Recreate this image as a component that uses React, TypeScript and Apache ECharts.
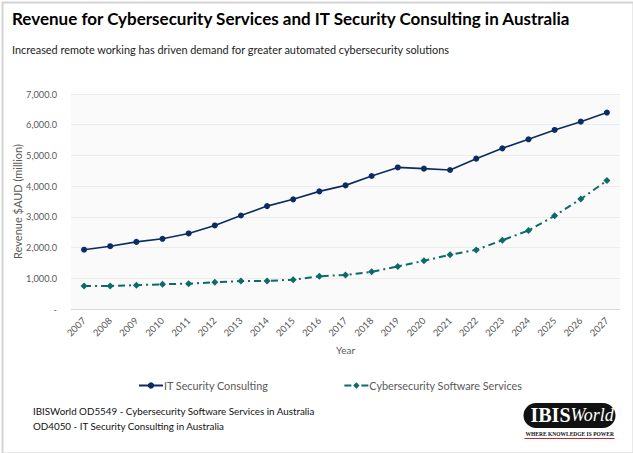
import React, { useEffect, useRef } from "react";
import * as echarts from "echarts";

const years = ["2007","2008","2009","2010","2011","2012","2013","2014","2015","2016","2017","2018","2019","2020","2021","2022","2023","2024","2025","2026","2027"];
const itConsulting = [1930, 2045, 2185, 2285, 2460, 2720, 3045, 3350, 3570, 3830, 4025, 4330, 4610, 4570, 4525, 4895, 5230, 5525, 5830, 6100, 6395];
const cyberSoftware = [750, 750, 775, 805, 825, 870, 910, 915, 955, 1065, 1110, 1210, 1385, 1570, 1765, 1925, 2240, 2555, 3035, 3580, 4180];
const seriesNames = ["IT Security Consulting", "Cybersecurity Software Services"];
const titleText = "Revenue for Cybersecurity Services and IT Security Consulting in Australia";
const subtitleText = "Increased remote working has driven demand for greater automated cybersecurity solutions";
const sourceLines = ["IBISWorld OD5549 - Cybersecurity Software Services in Australia", "OD4050 - IT Security Consulting in Australia"];

const FONT = "Lato, Roboto, sans-serif";

export default function App() {
  const ref = useRef<HTMLDivElement>(null);
  useEffect(() => {
    if (!ref.current) return;
    const chart = echarts.init(ref.current, undefined, { renderer: "svg" });
    chart.setOption({
      animation: false,
      backgroundColor: "#ffffff",
      textStyle: { fontFamily: FONT },
      grid: { left: 71, right: 13, top: 94, bottom: 144, show: true, backgroundColor: "#fafafa", borderWidth: 0, outerBoundsMode: "none", containLabel: false },
      legend: {
        top: 375,
        left: 133,
        itemGap: 75,
        itemWidth: 24,
        itemHeight: 8,
        textStyle: { color: "#595959", fontSize: 10.8, fontFamily: FONT, padding: [0, 0, 0, -4] },
        data: seriesNames,
      },
      xAxis: {
        type: "category",
        data: years,
        boundaryGap: true,
        name: "Year",
        nameLocation: "middle",
        nameGap: 36,
        nameTextStyle: { color: "#595959", fontSize: 10, fontFamily: FONT },
        axisLine: { lineStyle: { color: "#d9d9d9" } },
        axisTick: { show: false },
        axisLabel: { rotate: 45, color: "#595959", fontSize: 9.5, margin: 10, interval: 0, fontFamily: FONT },
      },
      yAxis: {
        type: "value",
        min: 0,
        max: 7000,
        interval: 1000,
        name: "Revenue $AUD (million)",
        nameLocation: "middle",
        nameGap: 48,
        nameMoveOverlap: false,
        nameTextStyle: { color: "#595959", fontSize: 11, fontFamily: FONT },
        axisLine: { show: false },
        axisTick: { show: false },
        splitLine: { lineStyle: { color: "#ececec" } },
        axisLabel: {
          color: "#595959",
          fontSize: 9.2,
          margin: 14,
          fontFamily: FONT,
          formatter: (v: number) => (v === 0 ? "-" : v.toLocaleString("en-US", { minimumFractionDigits: 1, maximumFractionDigits: 1 })),
        },
      },
      series: [
        {
          name: seriesNames[0],
          type: "line",
          data: itConsulting,
          symbol: "circle",
          symbolSize: 6,
          itemStyle: { color: "#0b2c63" },
          lineStyle: { color: "#0b2c63", width: 1.6 },
        },
        {
          name: seriesNames[1],
          type: "line",
          data: cyberSoftware,
          symbol: "diamond",
          symbolSize: 7,
          itemStyle: { color: "#0c6b67" },
          lineStyle: { color: "#0c6b67", width: 2, type: [7, 4, 2, 4] },
        },
      ],
      graphic: [
        { type: "rect", left: 0, top: 0, shape: { x: 0.5, y: 0.5, width: 631, height: 451 }, style: { fill: "none", stroke: "#d4d4d4", lineWidth: 2 }, silent: true },
        { type: "text", left: 12, top: 10, style: { text: titleText, fontSize: 17, fontWeight: "bold", fill: "#000000", fontFamily: FONT } },
        { type: "text", left: 12, top: 44, style: { text: subtitleText, fontSize: 10.9, fill: "#222222", fontFamily: FONT } },
        { type: "text", left: 33, top: 406, style: { text: sourceLines[0], fontSize: 9.8, fill: "#111111", fontFamily: FONT } },
        { type: "text", left: 33, top: 421, style: { text: sourceLines[1], fontSize: 9.8, fill: "#111111", fontFamily: FONT } },
        {
          type: "group",
          left: 522,
          top: 403,
          children: [
            { type: "rect", shape: { x: 0, y: 0, width: 92, height: 25, r: 12.5 }, style: { fill: "#111111" } },
            { type: "text", x: 7, y: 2, style: { text: "IBIS", fontSize: 20, fontWeight: "bold", fill: "#ffffff", fontFamily: "'Liberation Serif', 'DejaVu Serif', serif" } },
            { type: "text", x: 47, y: 3, style: { text: "World", fontSize: 18, fontStyle: "italic", fill: "#ffffff", fontFamily: "'Liberation Serif', 'DejaVu Serif', serif" } },
            { type: "text", x: 2, y: 28, style: { text: "WHERE KNOWLEDGE IS POWER", fontSize: 5.5, fontWeight: "bold", fill: "#111111", fontFamily: "'Liberation Serif', serif" } },
            { type: "line", shape: { x1: 1, y1: 35.5, x2: 91, y2: 35.5 }, style: { stroke: "#c0282d", lineWidth: 1 } },
          ],
        },
      ],
    });
    return () => chart.dispose();
  }, []);
  return <div ref={ref} style={{ position: "fixed", left: 0, top: 0, width: 633, height: 453 }} />;
}
